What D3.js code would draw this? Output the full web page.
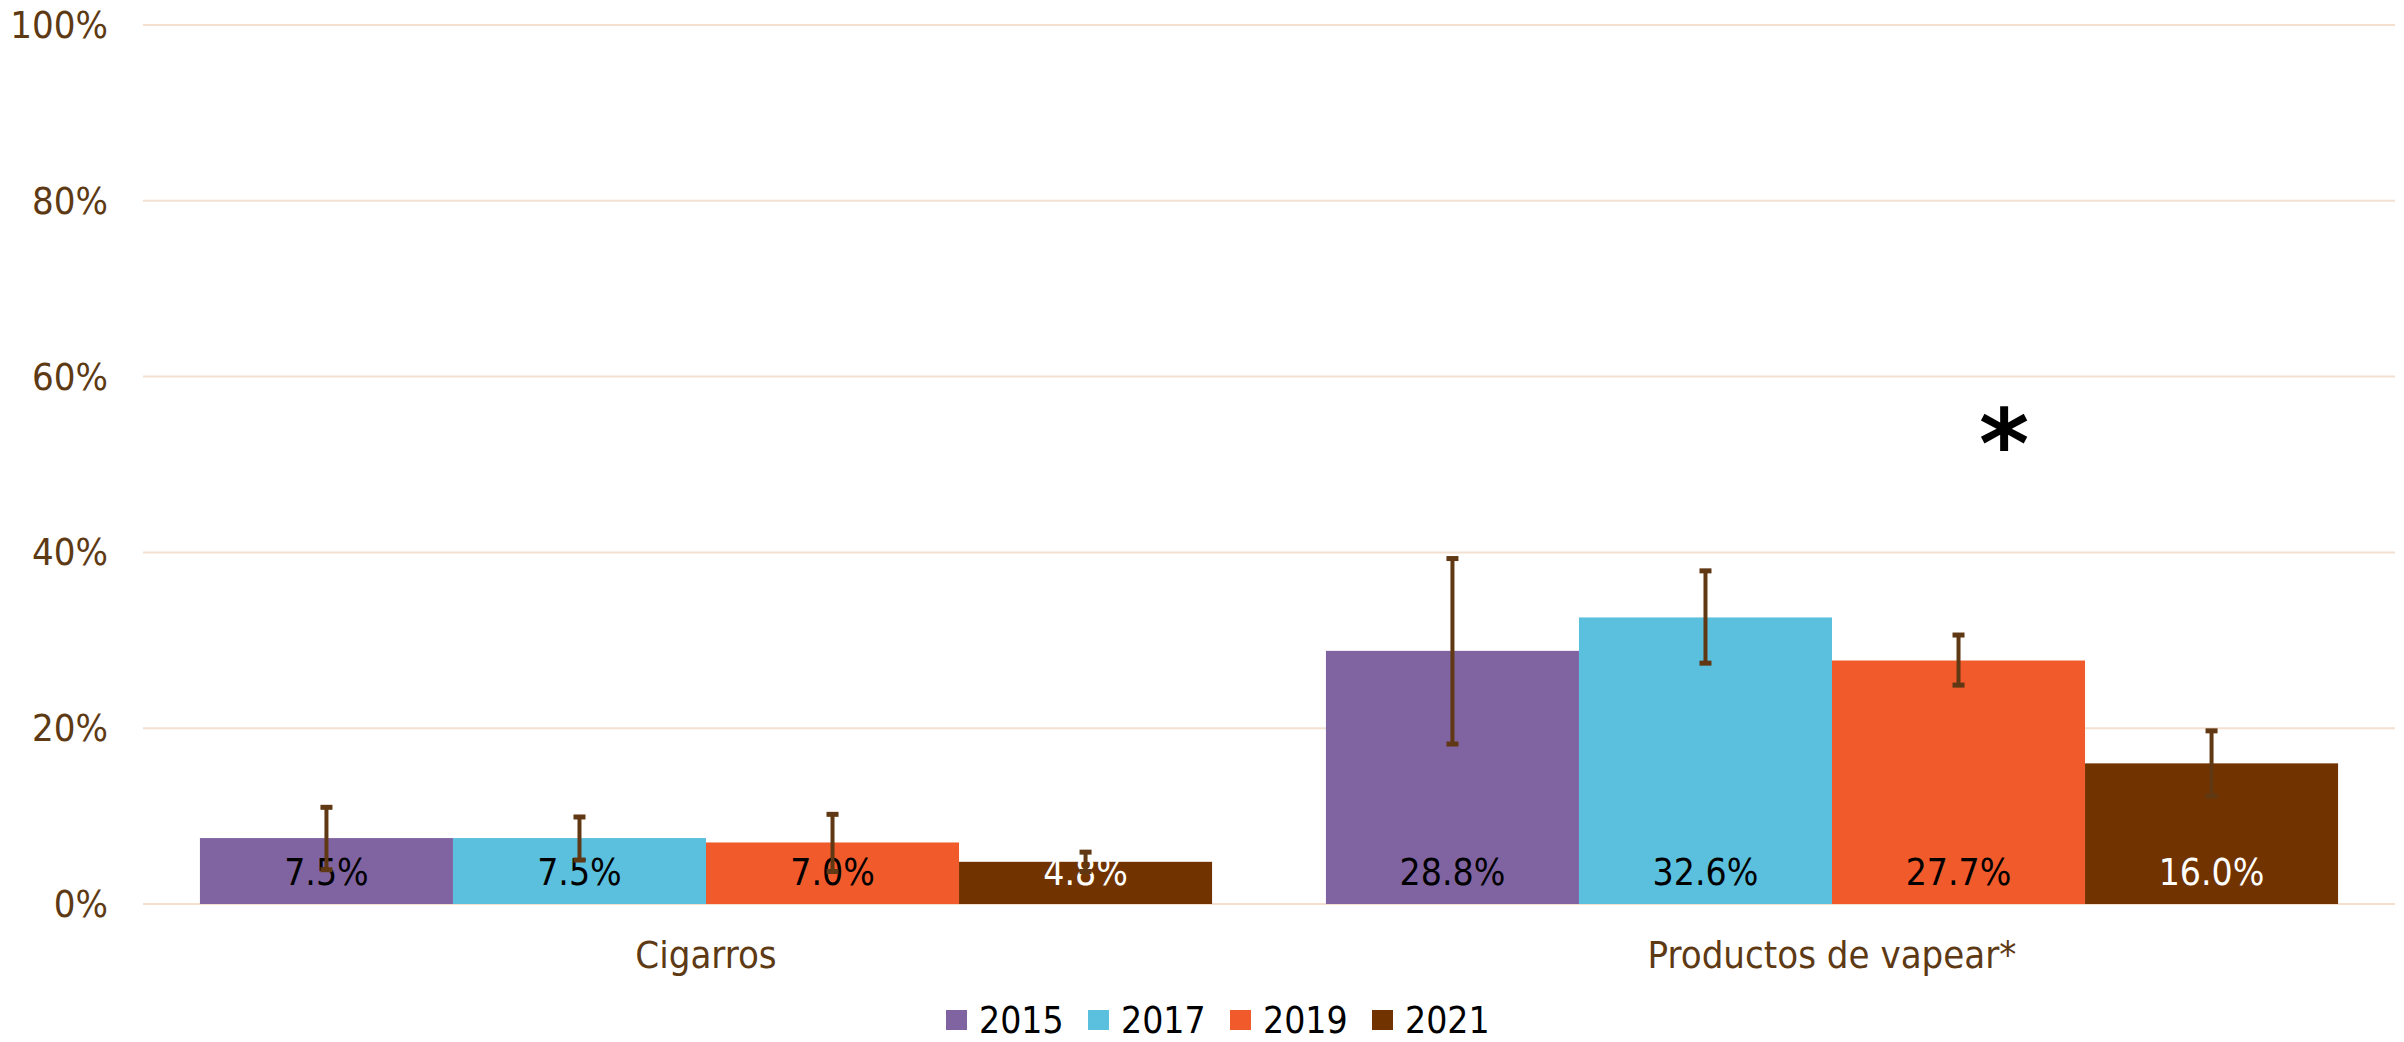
<!DOCTYPE html>
<html lang="es">
<head>
  <meta charset="UTF-8">
  <title>Cigarros y productos de vapear</title>
  <script src="https://cdn.jsdelivr.net/npm/d3@7"></script>
  <style>
  html, body { margin: 0; padding: 0; background: #fff; }
  svg { display: block; }
  text { font-family: "DejaVu Sans Condensed", "DejaVu Sans", sans-serif; }
  .tick-label, .cat-label { fill: #5e3a14; font-size: 38px; }
  .bar-label { font-size: 37px; }
  .legend text { fill: #000; font-size: 37px; }
  </style>
</head>
<body>
<svg id="chart" width="2404" height="1042"></svg>
<script>
const categories = ['Cigarros', 'Productos de vapear*'];
const years = ['2015', '2017', '2019', '2021'];
// one array per year: [Cigarros, Productos de vapear*]
const values2015 = [7.5, 28.8];
const values2017 = [7.5, 32.6];
const values2019 = [7.0, 27.7];
const values2021 = [4.8, 16.0];
// confidence intervals [low, high]
const ci2015 = [[3.9, 11.0], [18.2, 39.3]];
const ci2017 = [[5.0, 9.9], [27.4, 37.9]];
const ci2019 = [[3.7, 10.2], [24.9, 30.6]];
const ci2021 = [[3.7, 5.9], [12.3, 19.7]];
const yTicks = [0, 20, 40, 60, 80, 100];
const colors = ['#8064a2', '#5bc0de', '#f15a2b', '#713300'];
const labelColors = ['#000', '#000', '#000', '#fff'];

const seriesValues = [values2015, values2017, values2019, values2021];
const seriesCI = [ci2015, ci2017, ci2019, ci2021];

const svg = d3.select('#chart');
const plotLeft = 143, plotRight = 2395, plotTop = 25, plotBottom = 904;

const y = d3.scaleLinear().domain([0, 100]).range([plotBottom, plotTop]);
const x0 = d3.scaleBand().domain(categories).range([plotLeft, plotRight]).padding(0);
const x1 = d3.scaleBand().domain(years).range([0, x0.bandwidth()])
  .paddingInner(0).paddingOuter(0.225);

// gridlines
svg.append('g').selectAll('line').data(yTicks).join('line')
  .attr('x1', plotLeft).attr('x2', plotRight)
  .attr('y1', d => y(d)).attr('y2', d => y(d))
  .attr('stroke', '#f3e0d0').attr('stroke-width', 2);

// y tick labels
svg.append('g').selectAll('text').data(yTicks).join('text')
  .attr('class', 'tick-label')
  .attr('x', 108).attr('y', d => y(d))
  .attr('text-anchor', 'end').attr('dominant-baseline', 'central')
  .text(d => d + '%');

// bars
const rows = [];
years.forEach((yr, s) => {
  categories.forEach((c, i) => {
    rows.push({ cat: c, year: yr, s, v: seriesValues[s][i], ci: seriesCI[s][i] });
  });
});

const g = svg.append('g');
g.selectAll('rect').data(rows).join('rect')
  .attr('x', d => x0(d.cat) + x1(d.year))
  .attr('y', d => y(d.v))
  .attr('width', x1.bandwidth())
  .attr('height', d => plotBottom - y(d.v))
  .attr('fill', d => colors[d.s]);

// value labels
g.selectAll('text.bar-label').data(rows).join('text')
  .attr('class', 'bar-label')
  .attr('x', d => x0(d.cat) + x1(d.year) + x1.bandwidth() / 2)
  .attr('y', plotBottom - 19)
  .attr('text-anchor', 'middle')
  .attr('fill', d => labelColors[d.s])
  .text(d => d.v.toFixed(1) + '%');

// error bars
const eb = svg.append('g').attr('stroke', '#603813').attr('stroke-width', 4);
const cx = d => x0(d.cat) + x1(d.year) + x1.bandwidth() / 2;
eb.selectAll('line.v').data(rows).join('line').attr('class', 'v')
  .attr('x1', cx).attr('x2', cx)
  .attr('y1', d => y(d.ci[0])).attr('y2', d => y(d.ci[1]));
eb.selectAll('line.hi').data(rows).join('line').attr('class', 'hi')
  .attr('x1', d => cx(d) - 6).attr('x2', d => cx(d) + 6)
  .attr('y1', d => y(d.ci[1])).attr('y2', d => y(d.ci[1]))
  .attr('stroke-width', 5);
eb.selectAll('line.lo').data(rows).join('line').attr('class', 'lo')
  .attr('x1', d => cx(d) - 6).attr('x2', d => cx(d) + 6)
  .attr('y1', d => y(d.ci[0])).attr('y2', d => y(d.ci[0]))
  .attr('stroke-width', 5);

// category labels
svg.append('g').selectAll('text').data(categories).join('text')
  .attr('class', 'cat-label')
  .attr('x', d => x0(d) + x0.bandwidth() / 2)
  .attr('y', 968)
  .attr('text-anchor', 'middle')
  .text(d => d);

// significance asterisk over the vaping group
svg.append('text')
  .attr('x', x0(categories[1]) + x1('2019') + x1.bandwidth() * 0.68)
  .attr('y', y(48.5))
  .attr('text-anchor', 'middle')
  .attr('font-size', 96).attr('font-weight', 'bold')
  .style('font-family', '"DejaVu Sans", sans-serif')
  .attr('fill', '#000')
  .text('*');

// legend
const step = 142, sq = 20;
const legendStart = 946;
const lg = svg.append('g').attr('class', 'legend')
  .selectAll('g').data(years).join('g')
  .attr('transform', (d, i) => `translate(${legendStart + i * step}, 1010)`);
lg.append('rect').attr('width', sq + 1).attr('height', sq).attr('fill', (d, i) => colors[i]);
lg.append('text').attr('x', 33).attr('y', 23).text(d => d);
</script>
</body>
</html>
